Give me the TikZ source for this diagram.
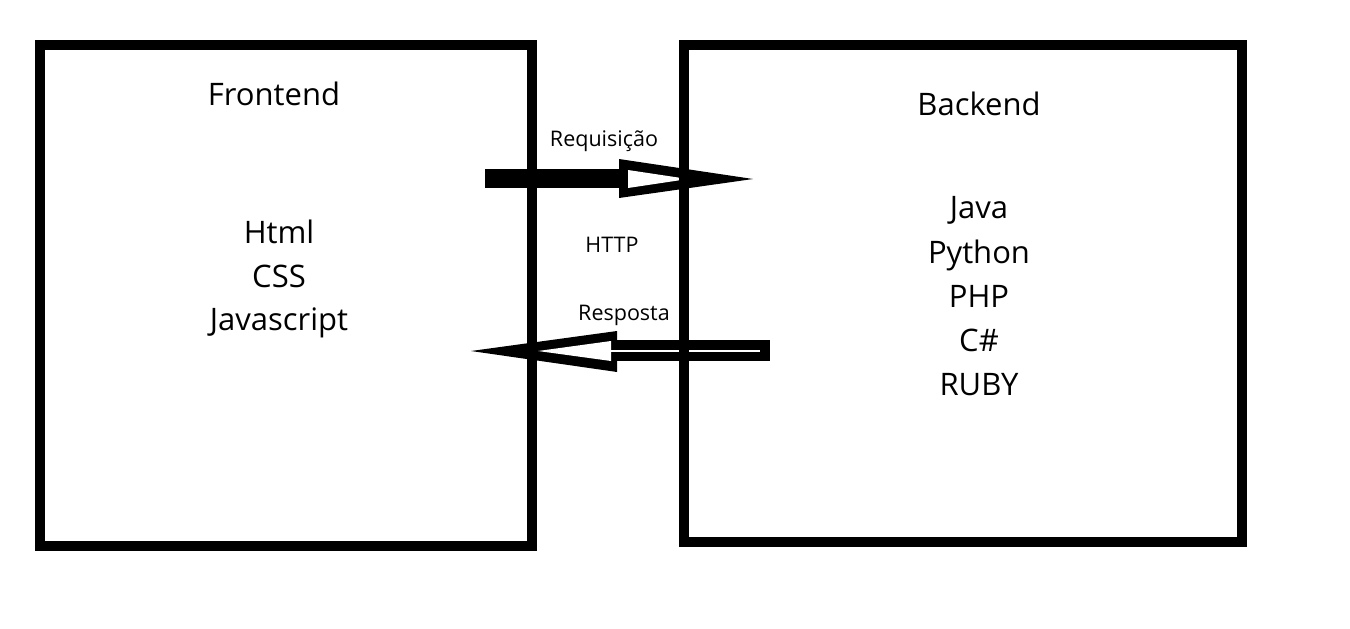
\documentclass[tikz,border=0pt]{standalone}
\usepackage{fontspec}
\setmainfont{Open Sans}
\begin{document}
\begin{tikzpicture}[x=1pt,y=-1pt,
            box/.style={draw,line width=10pt,inner sep=0pt},
            title/.style={font=\fontsize{31}{36}\selectfont,anchor=base},
            tech/.style={font=\fontsize{31}{36}\selectfont,anchor=base},
            label/.style={font=\fontsize{21.5}{26}\selectfont,anchor=base}]

        \useasboundingbox (0,0) rectangle (1350,629);

        % Draw arrows
        \fill (485,169) rectangle (621,188);
        \fill (619,159) -- (753,179) -- (619,198) -- cycle;
        \fill[white] (628,170) -- (688,179) -- (628,188) -- cycle;

        \fill (614,340) rectangle (770,361);
        \fill (471,351) -- (617,331) -- (617,372) -- cycle;
        \fill[white] (538,351) -- (611,341) -- (611,361) -- cycle;
        \draw[white,line width=1.5pt] (611,351) -- (760,351);

        % Define boxes
        \node[box,minimum width=492pt,minimum height=501pt] (front) at (286,295.5) {};
        \node[box,minimum width=558pt,minimum height=497pt] (back) at (963,293.5) {};

        % Texts
        \node[title] (fronttitle) at (274,105) {Frontend};
        \node[title] (backtitle) at (979,115) {Backend};

        \node[tech] (html) at (279,243) {Html};
        \node[tech] (css) at (279,287) {CSS};
        \node[tech] (js) at (279,330) {Javascript};

        \node[tech] (java) at (979,218) {Java};
        \node[tech] (python) at (979,263) {Python};
        \node[tech] (php) at (979,307) {PHP};
        \node[tech] (csharp) at (979,351) {C\#};
        \node[tech] (ruby) at (979,395) {RUBY};

        \node[label] (req) at (604,146) {Requisição};
        \node[label] (http) at (612,252) {HTTP};
        \node[label] (resp) at (624,320) {Resposta};

        \end{tikzpicture}
\end{document}
